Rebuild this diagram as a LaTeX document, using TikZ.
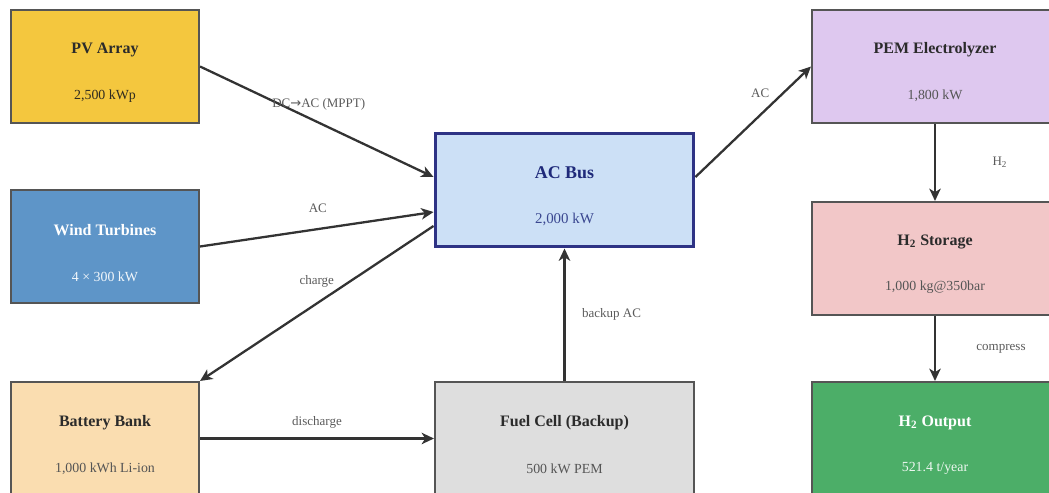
\documentclass[tikz,border=0pt]{standalone}
\usepackage{fontspec}
\setmainfont{Liberation Serif}
\newfontfamily\arrowfont{DejaVu Sans}
\usepackage{tikz}
\usetikzlibrary{arrows.meta,calc}
\usepackage{xcolor}

\definecolor{boxline}{HTML}{555555}
\definecolor{arrowcol}{HTML}{333333}
\definecolor{titletext}{HTML}{2B2B2B}
\definecolor{valtext}{HTML}{555555}
\definecolor{labeltext}{HTML}{5A5A5A}
\definecolor{pvfill}{HTML}{F4C73E}
\definecolor{windfill}{HTML}{5E95C8}
\definecolor{battfill}{HTML}{FADDB0}
\definecolor{busfill}{HTML}{CCE0F6}
\definecolor{busline}{HTML}{2E3385}
\definecolor{bustext}{HTML}{1F2A7A}
\definecolor{busval}{HTML}{3A4790}
\definecolor{fcfill}{HTML}{DEDEDE}
\definecolor{pemfill}{HTML}{DEC8EF}
\definecolor{stfill}{HTML}{F2C7C8}
\definecolor{outfill}{HTML}{4CAE68}

\begin{document}
\begin{tikzpicture}[x=0.02cm, y=-0.02cm,
    box/.style={draw=boxline, line width=1.2pt, minimum width=3.76cm, minimum height=2.26cm, inner sep=0pt},
    widebox/.style={box, minimum width=5.18cm},
    ttl/.style={font=\fontsize{9.1}{11}\selectfont\bfseries, text=titletext},
    val/.style={font=\fontsize{7.9}{10}\selectfont, text=valtext},
    lbl/.style={font=\fontsize{7.4}{9}\selectfont, text=labeltext},
    flowarrow/.style={-{Stealth[length=7pt, width=6.5pt, inset=2pt]}, line width=1.3pt, arrowcol}
]
    \useasboundingbox (0,0) rectangle (1049,493);
    \clip (0,0) rectangle (1049,493);

    % Sources
    \node[box, fill=pvfill] (pv) at (105,66.5) {};
    \node[ttl] (pvT) at (105,50) {PV Array};
    \node[val, text=valtext!80!pvfill!40!black] (pvV) at (105,96) {2,500 kWp};

    \node[box, fill=windfill] (wind) at (105,246.5) {};
    \node[ttl, text=white] (windT) at (105,230.5) {Wind Turbines};
    \node[val, text=white!92!windfill] (windV) at (105,276.5) {4 × 300 kW};

    \node[box, fill=battfill] (batt) at (105,438.5) {};
    \node[ttl] (battT) at (105,422.5) {Battery Bank};
    \node[val] (battV) at (105,468.5) {1,000 kWh Li-ion};

    % AC bus and backup
    \node[widebox, fill=busfill, draw=busline, line width=1.7pt, minimum height=2.28cm] (bus) at (564.5,190) {};
    \node[ttl, font=\fontsize{10.2}{12}\selectfont\bfseries, text=bustext] (busT) at (564.5,172.5) {AC Bus};
    \node[val, font=\fontsize{8.5}{10}\selectfont, text=busval] (busV) at (564.5,219) {2,000 kW};

    \node[widebox, fill=fcfill] (fc) at (564.5,438.5) {};
    \node[ttl] (fcT) at (564.5,422.5) {Fuel Cell (Backup)};
    \node[val] (fcV) at (564.5,468.5) {500 kW PEM};

    % Hydrogen chain
    \node[box, fill=pemfill, minimum width=4.92cm] (pem) at (935,66.5) {};
    \node[ttl] (pemT) at (935,50) {PEM Electrolyzer};
    \node[val] (pemV) at (935,96) {1,800 kW};

    \node[box, fill=stfill, minimum width=4.92cm] (st) at (935,258.5) {};
    \node[ttl] (stT) at (935,242) {H\textsubscript{2} Storage};
    \node[val] (stV) at (935,287) {1,000 kg@350bar};

    \node[box, fill=outfill, minimum width=4.92cm] (out) at (935,438.5) {};
    \node[ttl, text=white] (outT) at (935,422.5) {H\textsubscript{2} Output};
    \node[val, text=white!90!outfill] (outV) at (935,468.5) {521.4 t/year};

    % Arrows
    \draw[flowarrow] (pv.east) -- ($(bus.west)+(0,-13)$)
        node[lbl, midway, shift={(2,-17)}] (lpv) {DC{\arrowfont→}AC (MPPT)};
    \draw[flowarrow] (wind.east) -- ($(bus.west)+(0,22)$)
        node[lbl, midway, shift={(1,-21)}] (lwind) {AC};
    \draw[flowarrow] ($(bus.west)+(0,36)$) -- (batt.north east)
        node[lbl, midway, shift={(0,-22)}] (lcharge) {charge};
    \draw[flowarrow] (batt.east) -- (fc.west)
        node[lbl, midway, shift={(0,-16)}] (ldis) {discharge};
    \draw[flowarrow] (fc.north) -- (bus.south)
        node[lbl, midway, shift={(47,0)}] (lbackup) {backup AC};
    \draw[flowarrow] ($(bus.east)+(0,-13)$) -- (pem.west)
        node[lbl, midway, shift={(7,-28)}] (lpem) {AC};
    \draw[flowarrow] (pem.south) -- (st.north)
        node[lbl, midway, shift={(65,0)}] (lh) {H\textsubscript{2}};
    \draw[flowarrow] (st.south) -- (out.north)
        node[lbl, midway, shift={(66,0)}] (lcomp) {compress};
\end{tikzpicture}
\end{document}
